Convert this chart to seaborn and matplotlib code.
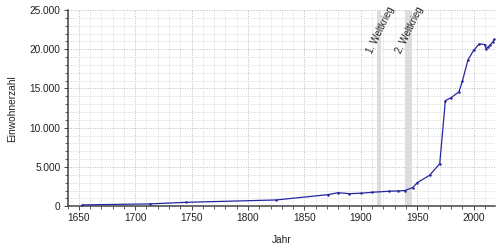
import matplotlib
matplotlib.use("Agg")
import matplotlib.pyplot as plt
import seaborn as sns
import pandas as pd
from matplotlib.ticker import MultipleLocator, FuncFormatter

years = [1653, 1713, 1745, 1825, 1871, 1880, 1890, 1900, 1910, 1925, 1933, 1939,
         1946, 1950, 1961, 1970, 1975, 1980, 1987, 1990, 1995, 2000, 2005, 2010,
         2011, 2013, 2015, 2017, 2018]
population = [170, 300, 500, 800, 1480, 1730, 1600, 1660, 1780, 1910, 1950, 2000,
              2370, 3000, 3940, 5420, 13450, 13830, 14560, 15900, 18630, 19860,
              20680, 20600, 20060, 20300, 20600, 20900, 21250]
war_labels = ["1. Weltkrieg", "2. Weltkrieg"]
war_starts = [1914, 1939]
war_ends = [1918, 1945]

sns.set_theme(style="white")
plt.rcParams['font.family'] = ['Liberation Sans', 'DejaVu Sans']

df = pd.DataFrame({"Jahr": years, "Einwohnerzahl": population})

fig = plt.figure(figsize=(5, 2.5), dpi=100)
ax = fig.add_axes([0.135, 0.175, 0.855, 0.785])

for s, e in zip(war_starts, war_ends):
    ax.axvspan(s, e, color="#dddddd", zorder=1, lw=0)

sns.lineplot(data=df, x="Jahr", y="Einwohnerzahl", ax=ax, color="#2626a0",
             lw=0.9, marker="o", markersize=1.8, markeredgewidth=0,
             zorder=3)

ax.set_xlim(1640, 2019)
ax.set_ylim(0, 25000)
ax.xaxis.set_major_locator(MultipleLocator(50))
ax.xaxis.set_minor_locator(MultipleLocator(10))
ax.yaxis.set_major_locator(MultipleLocator(5000))
ax.yaxis.set_minor_locator(MultipleLocator(1000))
ax.yaxis.set_major_formatter(FuncFormatter(lambda v, p: f"{int(v):,}".replace(",", ".")))

ax.grid(which="major", color="#bbbbbb", linestyle=(0, (1, 1.5)), lw=0.7, zorder=0)
ax.grid(which="minor", color="#e8e8e8", linestyle="-", lw=0.5, zorder=0)
ax.set_axisbelow(True)

for side in ["top", "right"]:
    ax.spines[side].set_visible(False)
for side in ["left", "bottom"]:
    ax.spines[side].set_color("#444444")
    ax.spines[side].set_linewidth(1.1)

ax.tick_params(axis="both", which="major", length=3, width=0.7, color="#444444",
               labelsize=7.3, labelcolor="#222222", pad=2, direction="out", left=True, bottom=True)
ax.tick_params(axis="both", which="minor", length=2, width=0.6, color="#444444",
               direction="out", left=True, bottom=True)

ax.set_xlabel("Jahr", fontsize=7.3, color="#222222")
ax.set_ylabel("Einwohnerzahl", fontsize=7.3, color="#222222")
ax.xaxis.set_label_coords(0.5, -0.17)
ax.xaxis.label.set_va("center")
ax.yaxis.set_label_coords(-0.13, 0.5)
ax.yaxis.label.set_va("center")

for lbl, s, e in zip(war_labels, war_starts, war_ends):
    ax.text((s + e) / 2 + 1.5, 22450, lbl, rotation=64, ha="center", va="center",
            fontsize=6.9, color="#222222", rotation_mode="anchor", zorder=4)

fig.savefig("out.png", dpi=100)
